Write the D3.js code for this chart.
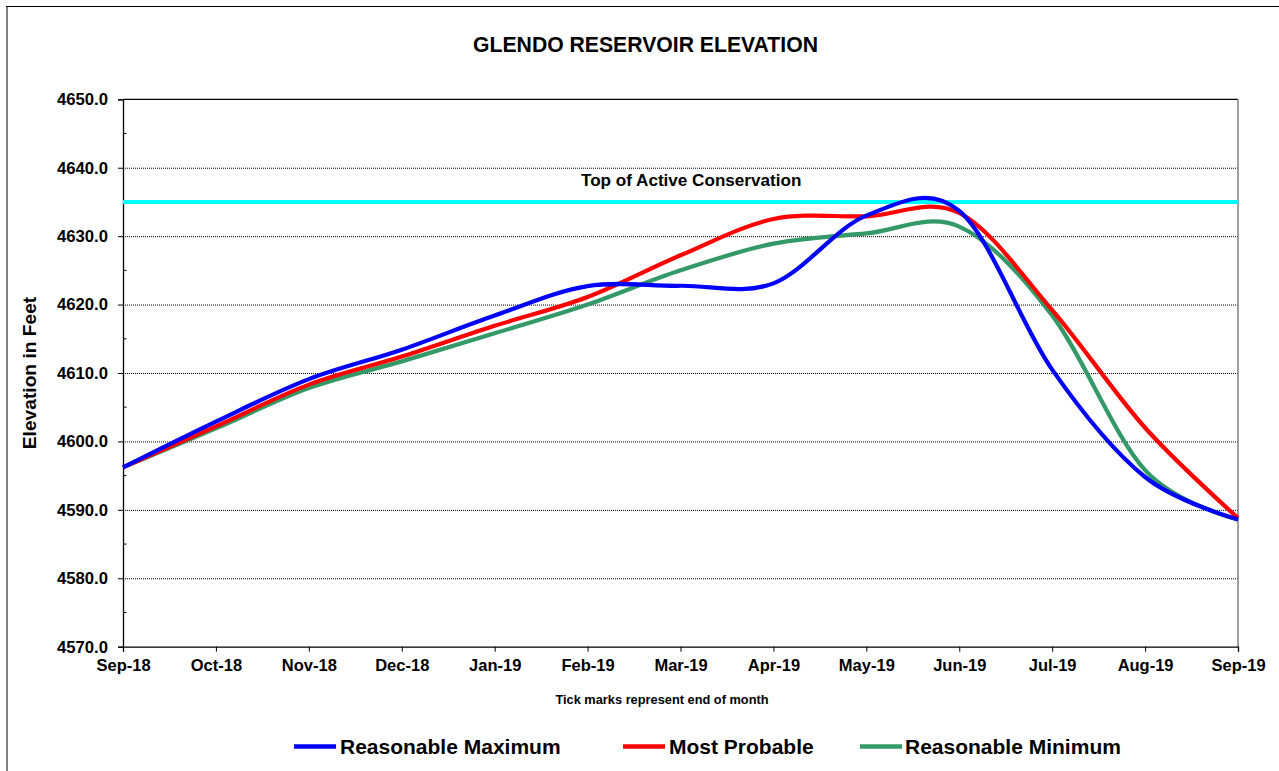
<!DOCTYPE html>
<html>
<head>
<meta charset="utf-8">
<script src="https://cdn.jsdelivr.net/npm/d3@7"></script>
<style>
  html, body { margin: 0; padding: 0; background: #fff; }
  svg { display: block; font-family: Arial, "Liberation Sans", sans-serif; font-weight: bold; }
</style>
</head>
<body>
<svg id="chart" width="1279" height="771"></svg>
<script>
// ---- Data ----
const months = ["Sep-18","Oct-18","Nov-18","Dec-18","Jan-19","Feb-19","Mar-19","Apr-19","May-19","Jun-19","Jul-19","Aug-19","Sep-19"];
const reasonableMaximum = [4596.2, 4602.9, 4609.1, 4613.4, 4618.4, 4622.7, 4622.75, 4623.1, 4633.0, 4633.7, 4610.5, 4594.8, 4588.6];
const mostProbable      = [4596.2, 4602.2, 4608.3, 4612.4, 4616.9, 4621.1, 4627.2, 4632.5, 4632.9, 4633.4, 4619.2, 4602.0, 4588.8];
const reasonableMinimum = [4596.2, 4601.9, 4607.8, 4611.7, 4615.8, 4620.0, 4625.0, 4628.9, 4630.4, 4631.4, 4618.4, 4595.8, 4588.6];
const topOfActiveConservation = 4635.0;
const yTicks = [4570, 4580, 4590, 4600, 4610, 4620, 4630, 4640, 4650];
const yMinorTicks = [4575, 4585, 4595, 4605, 4615, 4625, 4635, 4645];
const seriesNames = ["Reasonable Maximum", "Most Probable", "Reasonable Minimum"];
const seriesColors = ["#0000FF", "#FF0000", "#339966"];

// ---- Layout ----
const svg = d3.select("#chart");
const L = 123, R = 1238, T = 99.3, B = 646.7;

const x = d3.scalePoint().domain(months).range([L, R]);
const y = d3.scaleLinear().domain([4570, 4650]).range([B, T]);

// outer chart border
svg.append("line").attr("x1", 7).attr("x2", 7).attr("y1", 6).attr("y2", 771)
  .attr("stroke", "#808080").attr("stroke-width", 2);
svg.append("line").attr("x1", 6).attr("x2", 1279).attr("y1", 6.5).attr("y2", 6.5)
  .attr("stroke", "#000").attr("stroke-width", 1.2);

// title
svg.append("text").attr("x", 645.5).attr("y", 52).attr("text-anchor", "middle")
  .attr("font-size", 21.2).text("GLENDO RESERVOIR ELEVATION");

// gridlines
svg.append("g").selectAll("line").data(yTicks.filter(d => d > 4570 && d < 4650)).join("line")
  .attr("x1", L).attr("x2", R).attr("y1", d => y(d) + 0.5).attr("y2", d => y(d) + 0.5)
  .attr("stroke", "#000").attr("stroke-width", 1).attr("stroke-dasharray", "1,1");

// plot border top (black) and right (gray)
svg.append("line").attr("x1", L).attr("x2", R).attr("y1", T).attr("y2", T)
  .attr("stroke", "#000").attr("stroke-width", 1.3);
svg.append("line").attr("x1", R).attr("x2", R).attr("y1", T).attr("y2", B)
  .attr("stroke", "#808080").attr("stroke-width", 1.5);

// y axis
const yAxis = d3.axisLeft(y).tickValues(yTicks).tickSize(5).tickPadding(10)
  .tickFormat(d => d3.format(".1f")(d));
const gy = svg.append("g").attr("transform", `translate(${L},0)`).call(yAxis);
gy.select(".domain").attr("stroke", "#000").attr("stroke-width", 1.3);
gy.selectAll(".tick line").attr("stroke", "#000");
gy.selectAll(".tick text").attr("font-size", 16.7).attr("font-family", "Arial, 'Liberation Sans', sans-serif")
  .attr("font-weight", "bold").attr("fill", "#000");
// minor ticks inside
svg.append("g").selectAll("line").data(yMinorTicks).join("line")
  .attr("x1", L).attr("x2", L + 3.5).attr("y1", d => y(d)).attr("y2", d => y(d))
  .attr("stroke", "#000");

// x axis
const xAxis = d3.axisBottom(x).tickSize(5).tickPadding(8);
const gx = svg.append("g").attr("transform", `translate(0,${B})`).call(xAxis);
gx.select(".domain").attr("stroke", "#000").attr("stroke-width", 1.3);
gx.selectAll(".tick line").attr("stroke", "#000");
gx.selectAll(".tick text").attr("font-size", 16.5).attr("font-family", "Arial, 'Liberation Sans', sans-serif")
  .attr("font-weight", "bold").attr("fill", "#000");

// axis titles
svg.append("text").attr("transform", "translate(36,373) rotate(-90)").attr("text-anchor", "middle")
  .attr("font-size", 19.2).text("Elevation in Feet");
svg.append("text").attr("x", 662).attr("y", 704).attr("text-anchor", "middle")
  .attr("font-size", 12.8).text("Tick marks represent end of month");

// top of active conservation line
svg.append("line").attr("x1", L).attr("x2", R)
  .attr("y1", y(topOfActiveConservation)).attr("y2", y(topOfActiveConservation))
  .attr("stroke", "#00FFFF").attr("stroke-width", 4);
svg.append("text").attr("x", 581).attr("y", 186).attr("font-size", 17.1)
  .text("Top of Active Conservation");

// series lines
const allSeries = [reasonableMaximum, mostProbable, reasonableMinimum];
const line = d3.line().x((d, i) => x(months[i])).y(d => y(d)).curve(d3.curveCardinal.tension(0));
const order = [2, 1, 0];
order.forEach(k => {
  svg.append("path").datum(allSeries[k]).attr("d", line)
    .attr("fill", "none").attr("stroke", seriesColors[k]).attr("stroke-width", 4.2)
    .attr("stroke-linejoin", "round");
});

// legend
const legendItems = [
  { lx: 294, tx: 340 },
  { lx: 623, tx: 669 },
  { lx: 860, tx: 905 }
];
legendItems.forEach((it, k) => {
  svg.append("line").attr("x1", it.lx).attr("x2", it.lx + 42).attr("y1", 746.5).attr("y2", 746.5)
    .attr("stroke", seriesColors[k]).attr("stroke-width", 4.5);
  svg.append("text").attr("x", it.tx).attr("y", 754).attr("font-size", 21).text(seriesNames[k]);
});
</script>
</body>
</html>
